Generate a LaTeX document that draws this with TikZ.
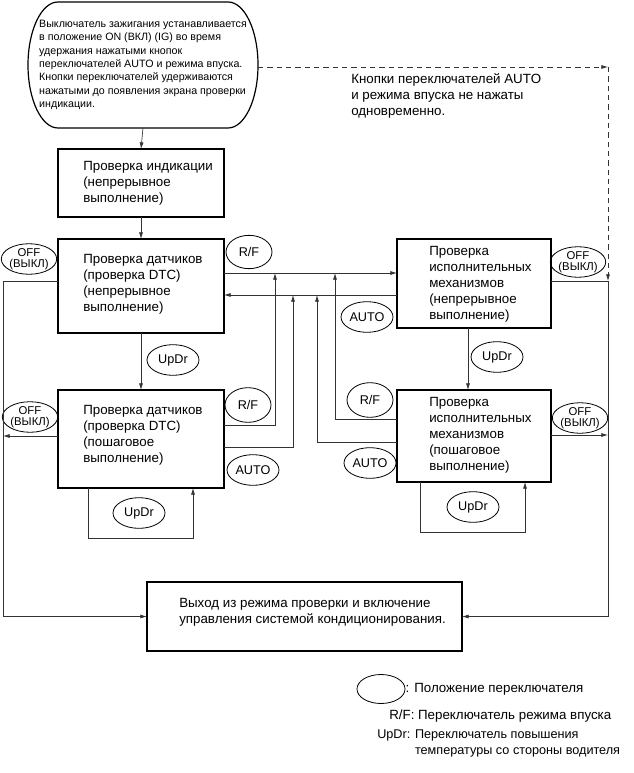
\documentclass[tikz,border=0pt]{standalone}
\usepackage{fontspec}
\setmainfont{Liberation Sans}
\usetikzlibrary{shapes.geometric, arrows.meta, positioning, calc}

\begin{document}
\begin{tikzpicture}[
    x=0.75pt, y=-0.75pt,
    box/.style={rectangle, draw, line width=0.9pt, minimum width=124.5pt, inner sep=0pt, outer sep=0pt},
    boxtext/.style={anchor=west, align=left, inner sep=0pt, font=\fontsize{10}{12}\selectfont},
    sw/.style={ellipse, draw, line width=0.6pt, inner sep=0pt, minimum width=39pt, minimum height=23pt, font=\fontsize{9.5}{11}\selectfont},
    offsw/.style={sw, minimum height=20pt, align=center, font=\fontsize{8.5}{8.5}\selectfont},
    conn/.style={-{Latex[length=5pt,width=3pt]}, line width=0.5pt, black!80},
    dashconn/.style={conn, dash pattern=on 4pt off 3pt}
]
\useasboundingbox (0,0) rectangle (633,773);

% start condition
\node[align=left, inner sep=0pt, outer sep=0pt, minimum width=172.5pt, minimum height=94.5pt,
      font=\fontsize{8}{10}\selectfont] (start) at (143,65)
  {Выключатель зажигания устанавливается\\в положение ON (ВКЛ) (IG) во время\\удержания нажатыми кнопок\\переключателей AUTO и режима впуска.\\Кнопки переключателей удерживаются\\нажатыми до появления экрана проверки\\индикации.};
\draw[line width=0.9pt] ([xshift=22.5pt]start.north west) -- ([xshift=-22.5pt]start.north east)
  arc[start angle=-90, end angle=90, x radius=30, y radius=63]
  -- ([xshift=22.5pt]start.south west)
  arc[start angle=90, end angle=270, x radius=30, y radius=63] -- cycle;

% boxes
\node[box, minimum height=51pt] (ind) at (141,183) {};
\node[boxtext] (indtext) at (83,183) {Проверка индикации\\(непрерывное\\выполнение)};
\node[box, minimum height=70.5pt] (dtc) at (141,286) {};
\node[boxtext] (dtctext) at (83,284) {Проверка датчиков\\(проверка DTC)\\(непрерывное\\выполнение)};
\node[box, minimum height=73.5pt] (dtcs) at (141,439) {};
\node[boxtext] (dtcstext) at (83,435) {Проверка датчиков\\(проверка DTC)\\(пошаговое\\выполнение)};
\node[box, minimum width=115.5pt, minimum height=66.75pt] (act) at (474,283.5) {};
\node[boxtext] (acttext) at (429,284) {Проверка\\исполнительных\\механизмов\\(непрерывное\\выполнение)};
\node[box, minimum width=115.5pt, minimum height=69pt] (acts) at (474,436) {};
\node[boxtext] (actstext) at (429,435) {Проверка\\исполнительных\\механизмов\\(пошаговое\\выполнение)};
\node[box, minimum width=236.25pt, minimum height=51.75pt] (final) at (304.5,616.5) {};
\node[boxtext] (finaltext) at (179,612) {Выход из режима проверки и включение\\управления системой кондиционирования.};

\node[boxtext] (note) at (351,96) {Кнопки переключателей AUTO\\и режима впуска не нажаты\\одновременно.};

% switch positions
\node[offsw] (offA) at (29,259) {OFF\\(ВЫКЛ)};
\node[sw, minimum width=34.5pt, minimum height=25pt] (rfA) at (249,252) {R/F};
\node[sw] (updrA) at (173,360) {UpDr};
\node[offsw] (offB) at (30,417) {OFF\\(ВЫКЛ)};
\node[sw, minimum width=34.5pt, minimum height=26pt] (rfB) at (248,405) {R/F};
\node[sw] (autoB) at (253,470) {AUTO};
\node[sw] (updrB) at (139,513) {UpDr};
\node[offsw] (offC) at (578,262) {OFF\\(ВЫКЛ)};
\node[sw] (autoC) at (367,317) {AUTO};
\node[sw] (updrC) at (497,357) {UpDr};
\node[sw, minimum width=34.5pt, minimum height=26pt] (rfD) at (370,400) {R/F};
\node[sw] (autoD) at (370,463) {AUTO};
\node[offsw] (offD) at (580,418) {OFF\\(ВЫКЛ)};
\node[sw] (updrD) at (473,507) {UpDr};

% helper coordinates
\coordinate (lline) at (3,0);
\coordinate (rline) at (608,0);
\coordinate (offrow) at (0,281);
\coordinate (rowrf) at (0,273);
\coordinate (rowauto) at (0,295);
\coordinate (rowB1) at (0,425);
\coordinate (rowB2) at (0,447);
\coordinate (rowD1) at (0,419);
\coordinate (rowD2) at (0,442);
\coordinate (colA) at (275,0);
\coordinate (colB) at (293,0);
\coordinate (colC) at (317,0);
\coordinate (colD) at (335,0);
\coordinate (loopBl) at (88,538);
\coordinate (loopBr) at (193,538);
\coordinate (loopDl) at (420,532);
\coordinate (loopDr) at (525,532);
\coordinate (dashcorner) at (608,67);

% connectors
\draw[conn] (start.south) -- (ind.north);
\draw[conn] (ind.south) -- (dtc.north);
\draw[conn] (dtc.south) -- (dtcs.north);
\draw[conn] ([xshift=-4.5pt]act.south) -- ([xshift=-4.5pt]acts.north);
\draw[conn] (dtc.east |- rowrf) -- (act.west |- rowrf);
\draw[conn] (act.west |- rowauto) -- (dtc.east |- rowauto);
\draw[conn] (dtcs.east |- rowB1) -| (colA |- rowrf);
\draw[conn] (dtcs.east |- rowB2) -| (colB |- rowauto);
\draw[conn] (acts.west |- rowD2) -| (colC |- rowauto);
\draw[conn] (acts.west |- rowD1) -| (colD |- rowrf);
\draw[conn] (dtcs.south -| loopBl) -- (loopBl) -- (loopBr) -- (dtcs.south -| loopBr);
\draw[conn] (acts.south -| loopDl) -- (loopDl) -- (loopDr) -- (acts.south -| loopDr);
\draw[conn] (dtc.west |- offrow) -| (lline |- final.west) -- (final.west);
\draw[conn] (act.east |- offrow) -| (rline |- final.east) -- (final.east);
\draw[conn] (dtcs.west |- 0,436) -- (lline |- 0,436);
\draw[conn] (acts.east |- 0,435) -- (rline |- 0,435);
\draw[dashconn] (start.east |- dashcorner) -- (dashcorner);
\draw[dashconn] (dashcorner) -- (dashcorner |- offrow);

% legend
\node[sw, minimum width=36pt, minimum height=21.75pt] (leg) at (381,689) {};
\node[boxtext, right=0pt of leg] (legtext) {: Положение переключателя};
\node[boxtext] (legrf) at (389,716) {R/F: Переключатель режима впуска};
\node[boxtext, font=\fontsize{9.5}{12}\selectfont] (legupdr) at (377,743) {UpDr: Переключатель повышения\\\phantom{UpDr: }температуры со стороны водителя};
\end{tikzpicture}
\end{document}
